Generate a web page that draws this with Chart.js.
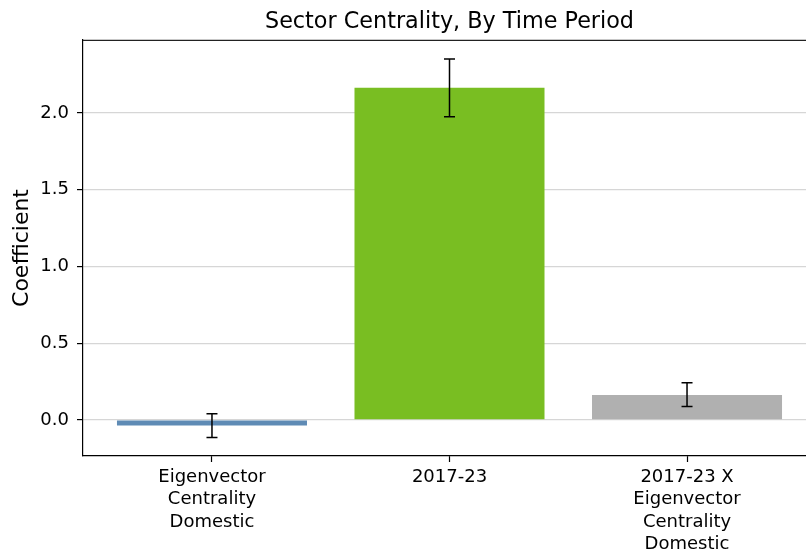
<!DOCTYPE html>
<html>
<head>
<meta charset="utf-8">
<script src="https://cdn.jsdelivr.net/npm/chart.js@4/dist/chart.umd.min.js"></script>
<style>
  html, body { margin: 0; padding: 0; background: #fff; overflow: hidden; }
  canvas { display: block; }
</style>
</head>
<body>
<canvas id="coefChart" width="818" height="552"></canvas>
<script>
// coefficient estimates with their confidence interval bounds
const categories = [
    ['Eigenvector', 'Centrality', 'Domestic'],
    ['2017-23'],
    ['2017-23 X', 'Eigenvector', 'Centrality', 'Domestic']
];
const coefficients = [-0.037, 2.165, 0.163];
const ciLower = [-0.115, 1.976, 0.087];
const ciUpper = [0.041, 2.352, 0.242];
const barColors = ['#5f8bb5', '#79be22', '#b0b0b0'];
const yTicks = [0, 0.5, 1.0, 1.5, 2.0];

const FONT = "'DejaVu Sans', sans-serif";

// whiskers + caps, positioned through the chart scales
const errorBars = {
    id: 'errorBars',
    afterDatasetsDraw(chart) {
        const { ctx, scales: { x, y } } = chart;
        ctx.save();
        ctx.strokeStyle = '#000';
        ctx.lineWidth = 1.5;
        coefficients.forEach((_, i) => {
            const px = x.getPixelForValue(i);
            const lo = y.getPixelForValue(ciLower[i]);
            const hi = y.getPixelForValue(ciUpper[i]);
            ctx.beginPath();
            ctx.moveTo(px, lo); ctx.lineTo(px, hi);
            ctx.moveTo(px - 5.5, lo); ctx.lineTo(px + 5.5, lo);
            ctx.moveTo(px - 5.5, hi); ctx.lineTo(px + 5.5, hi);
            ctx.stroke();
        });
        ctx.restore();
    }
};

// top / right frame lines
const frame = {
    id: 'frame',
    afterDraw(chart) {
        const { ctx, chartArea: a } = chart;
        ctx.save();
        ctx.strokeStyle = '#222';
        ctx.lineWidth = 1.2;
        ctx.beginPath();
        ctx.moveTo(a.left, a.top + 0.5);
        ctx.lineTo(a.right, a.top + 0.5);
        ctx.lineTo(a.right, a.bottom);
        ctx.stroke();
        ctx.restore();
    }
};

new Chart(document.getElementById('coefChart'), {
    type: 'bar',
    data: {
        datasets: [{
            data: coefficients.map((v, i) => ({ x: i, y: v })),
            backgroundColor: barColors,
            borderWidth: 0,
            barPercentage: 0.8,
            categoryPercentage: 1.0
        }]
    },
    options: {
        responsive: false,
        animation: false,
        layout: { padding: { right: 2 } },
        plugins: {
            legend: { display: false },
            tooltip: { enabled: false },
            title: {
                display: true,
                text: 'Sector Centrality, By Time Period',
                fullSize: false,
                color: '#000',
                font: { family: FONT, size: 22.3, weight: 'normal', lineHeight: 1.2 },
                padding: { top: 8.5, bottom: 4.7 }
            }
        },
        scales: {
            x: {
                type: 'linear',
                offset: false,
                min: -0.543,
                max: 2.543,
                afterFit(scale) { scale.height = 96; },
                afterBuildTicks(scale) {
                    scale.ticks = categories.map((_, i) => ({ value: i }));
                },
                ticks: {
                    color: '#000',
                    font: { family: FONT, size: 18, lineHeight: 1.25 },
                    padding: 4,
                    maxRotation: 0,
                    autoSkip: false,
                    callback: (v) => categories[v]
                },
                grid: {
                    offset: false,
                    drawOnChartArea: false,
                    drawTicks: true,
                    tickLength: 6,
                    tickColor: '#000',
                    tickWidth: 1.2
                },
                border: { display: true, color: '#000', width: 1.2 }
            },
            y: {
                min: -0.235,
                max: 2.476,
                afterFit(scale) { scale.width = 83; },
                afterBuildTicks(scale) {
                    scale.ticks = yTicks.map(v => ({ value: v }));
                },
                ticks: {
                    color: '#000',
                    font: { family: FONT, size: 18 },
                    padding: 8,
                    callback: (v) => v.toFixed(1)
                },
                grid: {
                    color: '#d6d6d6',
                    lineWidth: 1.2,
                    tickLength: 6,
                    tickColor: '#000',
                    tickWidth: 1.2
                },
                border: { display: true, color: '#000', width: 1.2 },
                title: {
                    display: true,
                    text: 'Coefficient',
                    color: '#000',
                    font: { family: FONT, size: 22, lineHeight: 1.2 },
                    padding: { top: 9, bottom: 0 }
                }
            }
        }
    },
    plugins: [errorBars, frame]
});
</script>
</body>
</html>
